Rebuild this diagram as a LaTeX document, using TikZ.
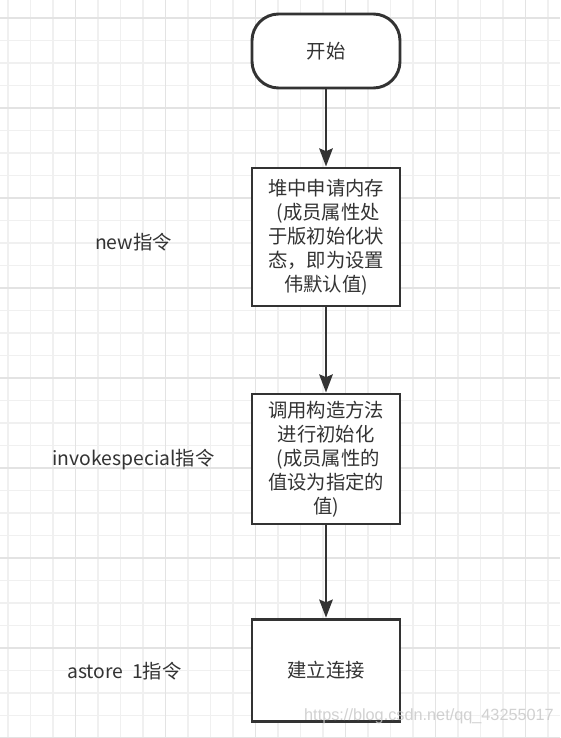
\documentclass[tikz,border=0pt]{standalone}
\usepackage{fontspec}
\setmainfont{Noto Sans CJK SC}
\newfontfamily\wmfont{Liberation Sans}
\usepackage{tikz}
\usetikzlibrary{arrows.meta}

\definecolor{ink}{HTML}{333333}
\definecolor{gridminor}{HTML}{F0F0F0}
\definecolor{gridmajor}{HTML}{E3E3E3}

\tikzset{
  stepbox/.style={draw=ink, line width=2.2pt, fill=white, align=center, text=ink,
    font=\fontsize{14.5}{18}\selectfont, inner sep=0pt},
  startbox/.style={stepbox, rounded corners=20pt},
  instr/.style={text=ink, font=\fontsize{14.5}{18}\selectfont},
  flow/.style={draw=ink, line width=2.2pt, -{Stealth[length=13.5pt, width=10pt, inset=2pt]}}
}

\begin{document}
\begin{tikzpicture}[x=0.75pt, y=-0.75pt]

 \useasboundingbox (0,0) rectangle (560,738);
 \fill[white] (0,0) rectangle (560,738);

 % grid
 \foreach \k in {0,...,24}
   \draw[gridminor, line width=0.9pt] (8+22.5*\k,0) -- (8+22.5*\k,738);
 \foreach \k in {0,...,32}
   \draw[gridminor, line width=0.9pt] (0,18+22.5*\k) -- (560,18+22.5*\k);
 \foreach \k in {3,7,...,23}
   \draw[gridmajor, line width=0.9pt] (8+22.5*\k,0) -- (8+22.5*\k,738);
 \foreach \k in {0,4,...,32}
   \draw[gridmajor, line width=0.9pt] (0,18+22.5*\k) -- (560,18+22.5*\k);

 \node[startbox, minimum width=111pt, minimum height=55.5pt] (start) at (326,51) {开始};

 \node[stepbox, minimum width=111pt, minimum height=103.5pt] (heap) at (326,237)
   {堆中申请内存\\~(成员属性处\\于版初始化状\\态，即为设置\\伟默认值)};

 \node[stepbox, minimum width=111pt, minimum height=97.5pt] (init) at (326,459)
   {调用构造方法\\进行初始化\\~(成员属性的\\值设为指定的\\值)};

 \node[stepbox, minimum width=111pt, minimum height=77pt] (link) at (326,670.5) {建立连接};

 \node[instr] (new) at (133.5,242) {new指令};
 \node[instr] (invoke) at (133.5,460) {invokespecial指令};
 \node[instr] (astore) at (124.5,671) {astore~~1指令};

 \draw[flow] (start) -- (heap);
 \draw[flow] (heap) -- (init);
 \draw[flow] (init) -- (link);

 \node[text=gray!45, opacity=0.8, font=\wmfont\fontsize{12.2}{12.2}\selectfont] (mark) at (429,716)
   {https://blog.csdn.net/qq\_43255017};

\end{tikzpicture}
\end{document}
